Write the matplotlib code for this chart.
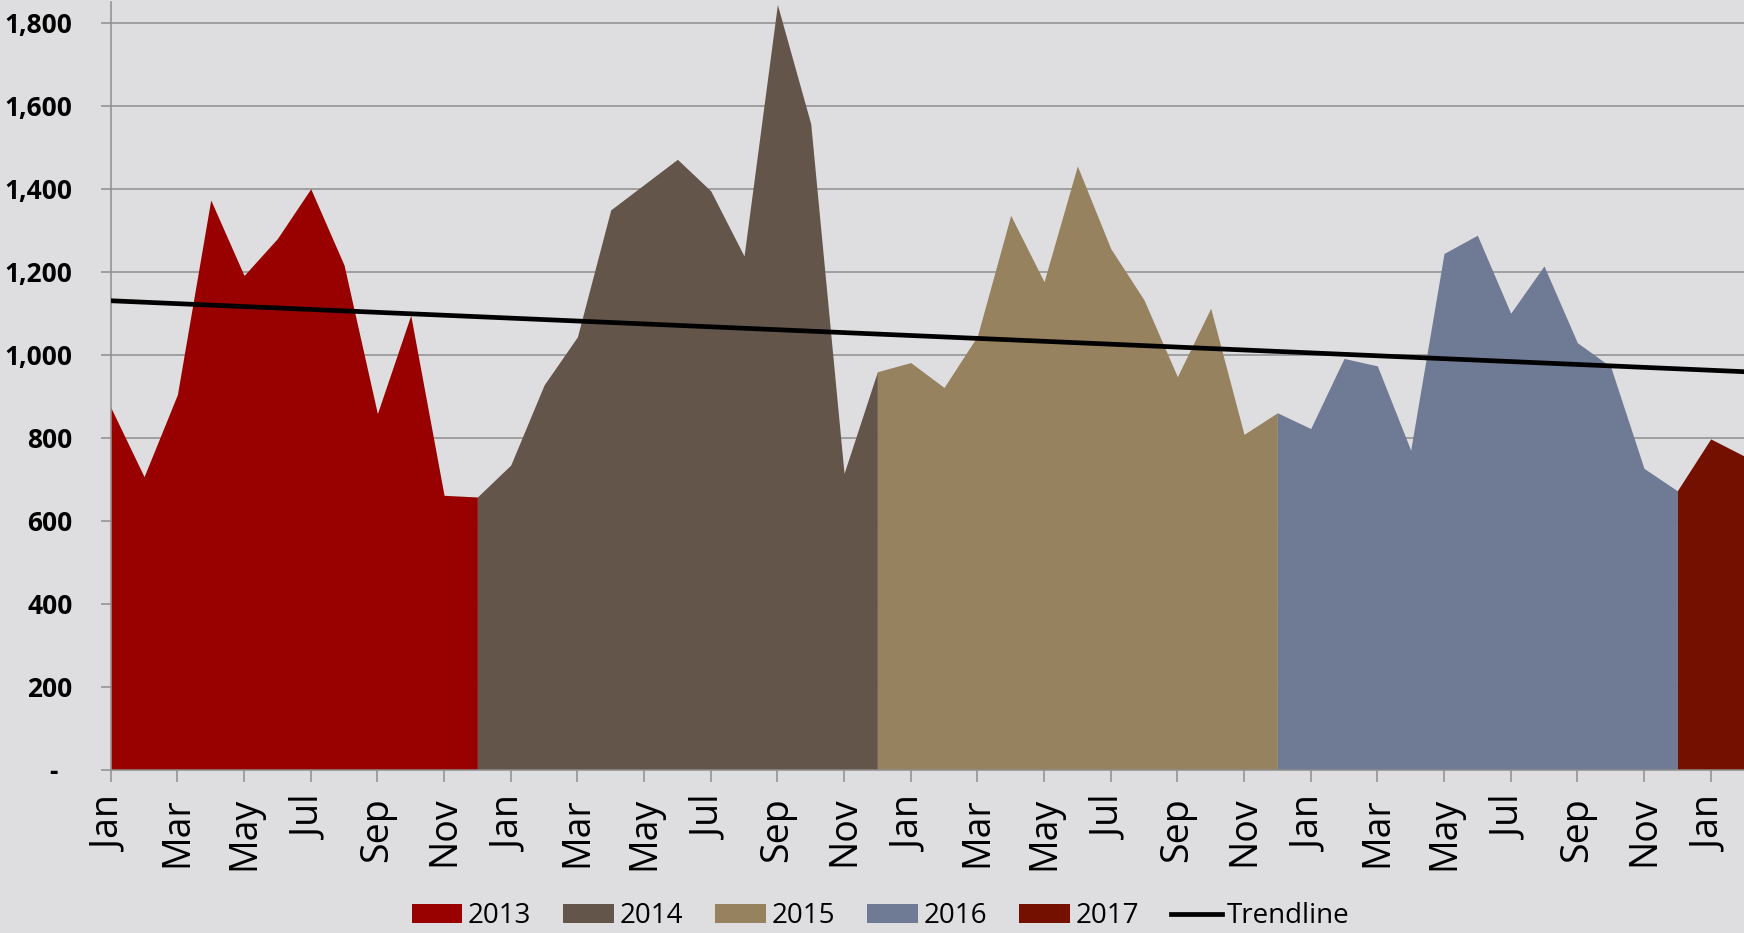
import numpy as np
import matplotlib.pyplot as plt
from matplotlib.ticker import FuncFormatter

# monthly values, Jan 2013 .. Feb 2017
v2013 = [873, 706, 904, 1373, 1191, 1280, 1400, 1216, 858, 1095, 661, 657]
v2014 = [734, 927, 1043, 1349, 1410, 1471, 1395, 1238, 1844, 1557, 714, 959]
v2015 = [981, 921, 1045, 1336, 1176, 1455, 1256, 1132, 947, 1112, 808, 860]
v2016 = [822, 991, 973, 770, 1244, 1288, 1100, 1214, 1029, 971, 726, 672]
v2017 = [797, 756]
years = ["2013", "2014", "2015", "2016", "2017"]
colors = ["#990000", "#64554B", "#97825F", "#6F7B94", "#731000"]

# trendline, value at first and last month
trend_ends = [1130, 959]

tick_labels = ["Jan", "Mar", "May", "Jul", "Sep", "Nov"] * 4 + ["Jan"]

bg = "#DEDEE0"
grid_col = "#8E8E8E"

fig = plt.figure(figsize=(17.44, 9.33), dpi=100, facecolor=bg)
ax = fig.add_axes([0.0635, 0.1752, 0.9365, 0.8226])
ax.set_facecolor(bg)

series = [v2013, v2014, v2015, v2016, v2017]
start = 0
prev_last = None
for vals, c, yr in zip(series, colors, years):
    x = np.arange(start, start + len(vals))
    y = np.array(vals, dtype=float)
    if prev_last is not None:
        x = np.concatenate([[start - 1], x])
        y = np.concatenate([[prev_last], y])
    ax.fill_between(x, 0, y, color=c, linewidth=0, label=yr, zorder=2)
    prev_last = vals[-1]
    start += len(vals)

n = start
ax.plot([0, n - 1], trend_ends, color="black", lw=3.4, label="Trendline", zorder=4)

ax.set_xlim(0, n - 1)
ax.set_ylim(0, 1850)
ax.set_yticks(np.arange(0, 1801, 200))
ax.yaxis.set_major_formatter(FuncFormatter(lambda v, p: "-  " if v == 0 else f"{v:,.0f}"))
ax.set_xticks(np.arange(0, 49, 2))
ax.set_xticklabels(tick_labels, rotation=90, fontsize=27, family="Open Sans")
for lab in ax.get_yticklabels():
    lab.set_fontfamily("Open Sans")
    lab.set_fontweight("bold")
    lab.set_fontsize(19)

ax.grid(axis="y", color=grid_col, lw=1.1, zorder=1)
ax.set_axisbelow(True)
for s in ["top", "right"]:
    ax.spines[s].set_visible(False)
for s in ["left", "bottom"]:
    ax.spines[s].set_color(grid_col)
    ax.spines[s].set_linewidth(1.1)
    ax.spines[s].set_zorder(3)
ax.tick_params(axis="x", length=8.6, width=1.1, color=grid_col, pad=11)
ax.tick_params(axis="y", length=7.5, width=1.1, color=grid_col, pad=20)

handles, labels = ax.get_legend_handles_labels()
fig.legend(handles, labels, loc="center", bbox_to_anchor=(0.505, 0.018), ncol=6,
           frameon=False, prop={"family": "Open Sans", "size": 20},
           handlelength=1.83, handleheight=0.65, handletextpad=0.2, columnspacing=1.15,
           borderaxespad=0, borderpad=0)

fig.savefig("out.png", dpi=100, facecolor=bg)
